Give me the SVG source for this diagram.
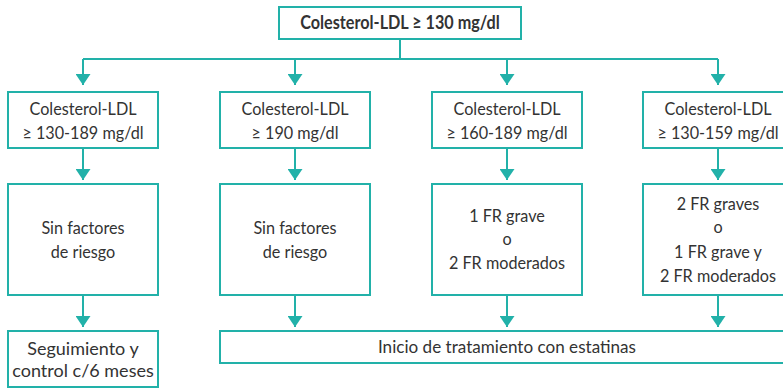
<svg xmlns="http://www.w3.org/2000/svg" width="783" height="388" viewBox="0 0 783 388">
<style>
.box{fill:#fff;stroke:#22b1a9;stroke-width:2}
.ln{fill:none;stroke:#22b1a9;stroke-width:2}
text{font-family:Lato,"Open Sans",sans-serif;font-size:18px;fill:#333;text-anchor:middle;transform-box:fill-box;transform-origin:center;transform:scaleX(0.9)}
.b{font-weight:bold}
.w95{transform:scaleX(0.95)}
.w100{transform:none}
</style>
<defs>
<marker id="ah" viewBox="0 0 11 15" refX="11" refY="7.5" markerWidth="11" markerHeight="15" markerUnits="userSpaceOnUse" orient="auto">
<path d="M0,0 L11,7.5 L0,15 Z" fill="#22b1a9"/>
</marker>
</defs>
<rect width="783" height="388" fill="#fff"/>
<g id="connectors">
<path class="ln" d="M400,39 V59"/>
<path class="ln" d="M83,59 H718"/>
<path class="ln" d="M83,59 V85" marker-end="url(#ah)"/>
<path class="ln" d="M295,59 V85" marker-end="url(#ah)"/>
<path class="ln" d="M507,59 V85" marker-end="url(#ah)"/>
<path class="ln" d="M718,59 V85" marker-end="url(#ah)"/>
<path class="ln" d="M83,148 V180" marker-end="url(#ah)"/>
<path class="ln" d="M295,148 V180" marker-end="url(#ah)"/>
<path class="ln" d="M507,148 V180" marker-end="url(#ah)"/>
<path class="ln" d="M718,148 V180" marker-end="url(#ah)"/>
<path class="ln" d="M83,295 V327" marker-end="url(#ah)"/>
<path class="ln" d="M295,295 V327" marker-end="url(#ah)"/>
<path class="ln" d="M507,295 V327" marker-end="url(#ah)"/>
<path class="ln" d="M718,295 V327" marker-end="url(#ah)"/>
</g>
<g id="top">
<rect class="box" x="279" y="7" width="242" height="32"/>
<text class="b" x="400" y="29.5">Colesterol-LDL ≥ 130 mg/dl</text>
</g>
<g id="r1c1">
<rect class="box" x="8" y="92" width="150" height="56"/>
<text x="83" y="115">Colesterol-LDL</text>
<text x="83" y="139">≥ 130-189 mg/dl</text>
</g>
<g id="r1c2">
<rect class="box" x="220" y="92" width="150" height="56"/>
<text x="295" y="115">Colesterol-LDL</text>
<text x="295" y="139">≥ 190 mg/dl</text>
</g>
<g id="r1c3">
<rect class="box" x="432" y="92" width="150" height="56"/>
<text x="507" y="115">Colesterol-LDL</text>
<text x="507" y="139">≥ 160-189 mg/dl</text>
</g>
<g id="r1c4">
<rect class="box" x="643" y="92" width="150" height="56"/>
<text x="718" y="115">Colesterol-LDL</text>
<text x="718" y="139">≥ 130-159 mg/dl</text>
</g>
<g id="r2c1">
<rect class="box" x="8" y="184" width="150" height="111"/>
<text x="83" y="234">Sin factores</text>
<text x="83" y="258">de riesgo</text>
</g>
<g id="r2c2">
<rect class="box" x="220" y="184" width="150" height="111"/>
<text x="295" y="234">Sin factores</text>
<text x="295" y="258">de riesgo</text>
</g>
<g id="r2c3">
<rect class="box" x="432" y="184" width="150" height="111"/>
<text x="507" y="222">1 FR grave</text>
<text x="507" y="245">o</text>
<text x="507" y="269">2 FR moderados</text>
</g>
<g id="r2c4">
<rect class="box" x="643" y="184" width="150" height="111"/>
<text x="718" y="210">2 FR graves</text>
<text x="718" y="233">o</text>
<text x="718" y="258">1 FR grave y</text>
<text x="718" y="282">2 FR moderados</text>
</g>
<g id="seguimiento">
<rect class="box" x="8" y="331" width="150" height="56"/>
<text class="w100" x="83" y="355">Seguimiento y</text>
<text class="w100" x="83" y="377">control c/6 meses</text>
</g>
<g id="inicio">
<rect class="box" x="220" y="331" width="573" height="32"/>
<text class="w95" x="507" y="353">Inicio de tratamiento con estatinas</text>
</g>
</svg>
